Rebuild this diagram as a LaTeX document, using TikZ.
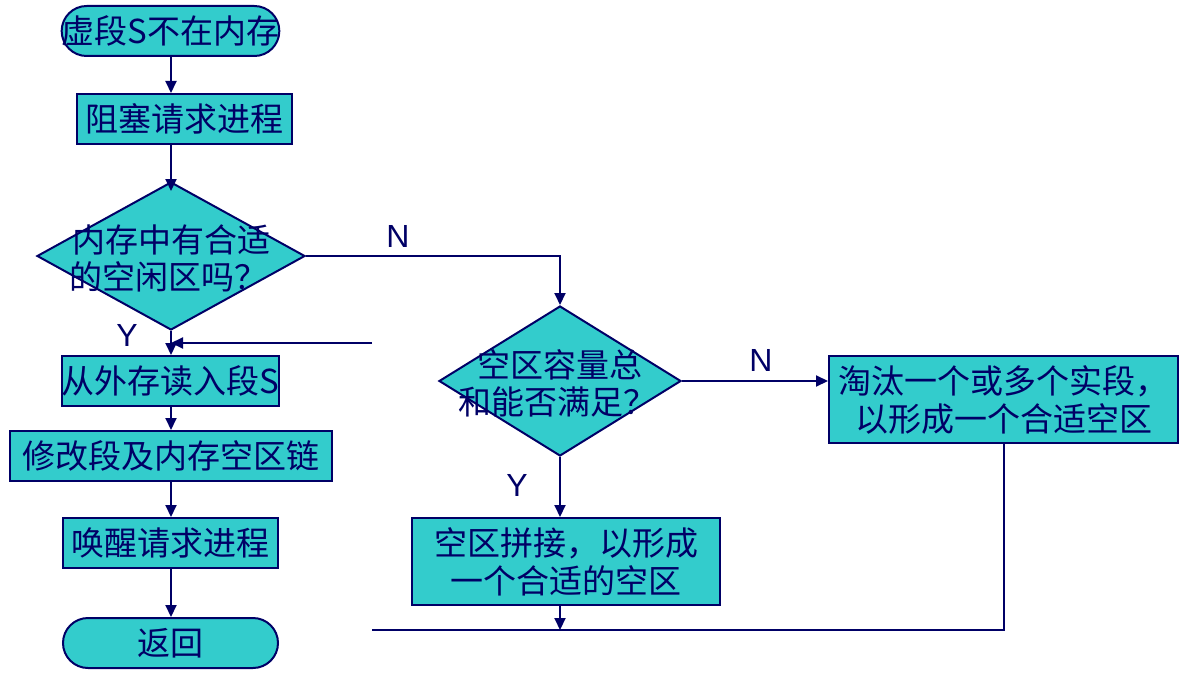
\documentclass[tikz,border=0pt]{standalone}
\usepackage{fontspec}
\newfontfamily\cjk{Noto Sans CJK SC}
\newfontfamily\latinf{Liberation Sans}
\usetikzlibrary{arrows.meta,shapes.geometric}
\definecolor{fillc}{HTML}{33CCCC}
\definecolor{navy}{HTML}{000066}
\begin{document}
\begin{tikzpicture}[x=1pt,y=-1pt,
  box/.style={draw=navy, fill=fillc, line width=2pt, rectangle, inner sep=0pt,
    font=\cjk\fontsize{33}{38}\selectfont, text=navy, align=center},
  term/.style={box, rounded corners=25pt},
  dia/.style={draw=navy, fill=fillc, line width=2pt, diamond, inner sep=0pt},
  txt/.style={inner sep=0pt, font=\cjk\fontsize{33}{37}\selectfont, text=navy, align=center},
  lab/.style={inner sep=0pt, font=\latinf\fontsize{32}{36}\selectfont, text=navy},
  arr/.style={draw=navy, line width=2pt, -{Triangle[length=12pt,width=11pt]}},
  ln/.style={draw=navy, line width=2pt}]
\useasboundingbox (0,0) rectangle (1190,682);
% left column
\node[term, minimum width=215pt, minimum height=50pt] (start) at (170.5,31) {虚段S不在内存};
\node[box, minimum width=215pt, minimum height=50pt] (block) at (184.5,119) {阻塞请求进程};
\node[dia, minimum width=268pt, minimum height=148pt] (d1) at (171,256) {};
\node[txt] (d1t) at (171,258) {内存中有合适\\的空闲区吗？\,};
\node[box, minimum width=215pt, minimum height=50pt] (read) at (170.5,381) {从外存读入段S};
\node[box, minimum width=322pt, minimum height=50pt] (modify) at (171,456) {修改段及内存空区链};
\node[box, minimum width=215pt, minimum height=50pt] (wake) at (170.5,543) {唤醒请求进程};
\node[term, minimum width=215pt, minimum height=50pt] (ret) at (170.5,643) {返回};
% middle and right
\node[dia, minimum width=242pt, minimum height=150pt] (d2) at (560,381) {};
\node[txt] (d2t) at (560,383) {空区容量总\\和能否满足？\,};
\node[box, minimum width=349pt, minimum height=87pt] (evict) at (1003.5,399.5) {淘汰一个或多个实段，\\以形成一个合适空区};
\node[box, minimum width=308pt, minimum height=87pt] (merge) at (566,561.5) {空区拼接，以形成\\一个合适的空区};
% labels
\node[lab] (n1) at (398,236) {N};
\node[lab] (y1) at (127,335) {Y};
\node[lab] (n2) at (761,360) {N};
\node[lab] (y2) at (517,485) {Y};
% free ends
\coordinate (loopin) at (372,343);
\coordinate (botL) at (372,630);
% connectors
\draw[arr] (start.south -| d1.north) -- (d1.north |- block.north);
\draw[arr, shorten >=-10pt] (d1.north |- block.south) -- (d1.north);
\draw[arr] (d1.south) -- (d1.south |- read.north);
\draw[arr] (loopin) -- (d1.south |- loopin);
\draw[arr] (d1.south |- read.south) -- (d1.south |- modify.north);
\draw[arr] (d1.south |- modify.south) -- (d1.south |- wake.north);
\draw[arr] (d1.south |- wake.south) -- (d1.south |- ret.north);
\draw[arr] (d1.east) -| (d2.north);
\draw[arr] (d2.east) -- (d2.east -| evict.west);
\draw[arr] (d2.south) -- (d2.south |- merge.north);
\draw[arr] (d2.south |- merge.south) -- (d2.south |- botL);
\draw[ln] (evict.south) |- (botL);
\end{tikzpicture}
\end{document}
